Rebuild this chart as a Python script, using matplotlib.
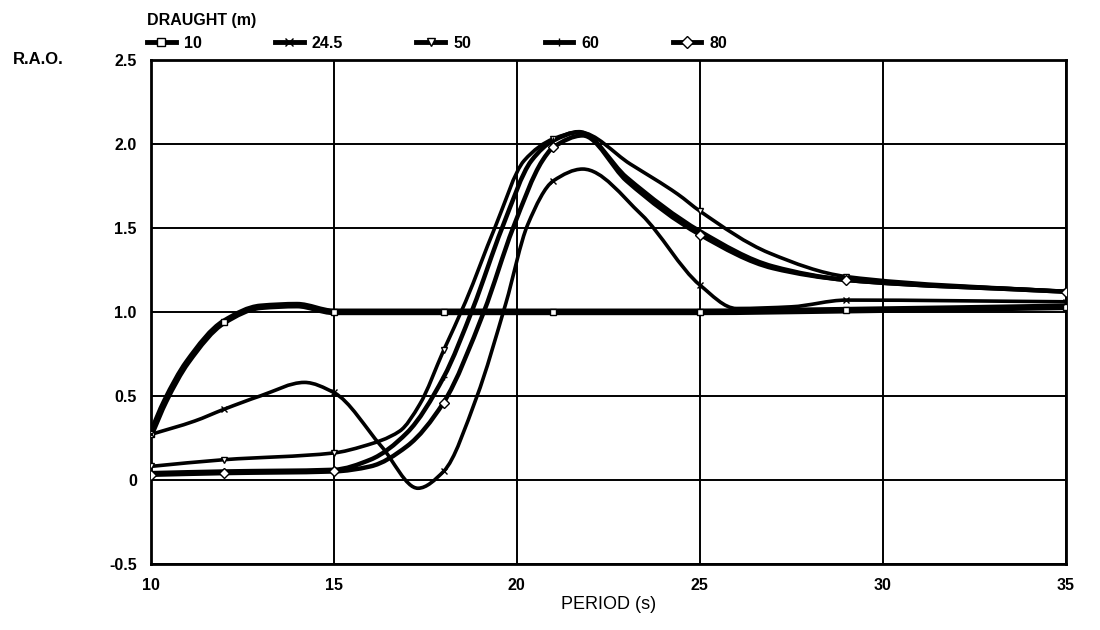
import numpy as np
import matplotlib
matplotlib.use('Agg')
from matplotlib import pyplot as plt
from matplotlib.path import Path
from matplotlib.patches import PathPatch
from matplotlib.lines import Line2D

plt.rcParams['font.family'] = ['Liberation Sans', 'DejaVu Sans']

# values (period s, R.A.O.)
t_10 = [10, 10.4, 11, 12, 13, 14, 15, 18, 21, 25, 29, 35]
r_10 = [0.27, 0.47, 0.70, 0.94, 1.03, 1.04, 1.00, 1.00, 1.00, 1.00, 1.01, 1.03]

t_24 = [10, 11.2, 12, 13, 14.2, 15, 16.3, 17.3, 18, 18.9, 19.7, 20.3, 21, 21.8, 23.4, 25, 26, 27.5, 29, 35]
r_24 = [0.27, 0.35, 0.42, 0.50, 0.58, 0.52, 0.20, -0.05, 0.05, 0.49, 1.05, 1.52, 1.78, 1.85, 1.58, 1.16, 1.02, 1.03, 1.07, 1.06]

t_50 = [10, 12, 15, 15.8, 16.8, 17.35, 18, 18.6, 19.4, 20.2, 21, 21.7, 23.1, 24.4, 25, 26.9, 29, 35]
r_50 = [0.08, 0.12, 0.16, 0.20, 0.29, 0.45, 0.77, 1.06, 1.50, 1.90, 2.03, 2.07, 1.88, 1.70, 1.60, 1.35, 1.21, 1.12]

t_60 = [10, 12, 15, 16, 17, 18, 18.8, 19.6, 20.4, 21, 21.7, 23, 25, 27, 29, 35]
r_60 = [0.04, 0.05, 0.06, 0.12, 0.28, 0.61, 1.02, 1.50, 1.90, 2.02, 2.07, 1.80, 1.48, 1.27, 1.19, 1.12]

t_80 = [10, 12, 15, 16, 17, 18, 19.1, 19.9, 20.7, 21, 21.8, 23, 25, 27, 29, 35]
r_80 = [0.03, 0.04, 0.05, 0.08, 0.20, 0.46, 1.00, 1.50, 1.90, 1.98, 2.05, 1.78, 1.46, 1.26, 1.19, 1.12]

marker_t = [10, 12, 15, 18, 21, 25, 29, 35]
labels = ['10', '24.5', '50', '60', '80']
x_ticks = [10, 15, 20, 25, 30, 35]
y_ticks = [-0.5, 0, 0.5, 1.0, 1.5, 2.0, 2.5]
y_ticklabels = ['-0.5', '0', '0.5', '1.0', '1.5', '2.0', '2.5']


def slopes(x, y):
    # pchip style tangents so the curve doesn't overshoot
    x = np.asarray(x, float)
    y = np.asarray(y, float)
    h = np.diff(x)
    d = np.diff(y) / h
    m = np.zeros_like(y)
    m[0], m[-1] = d[0], d[-1]
    for k in range(1, len(x) - 1):
        if d[k - 1] * d[k] <= 0:
            m[k] = 0
        else:
            w1 = 2 * h[k] + h[k - 1]
            w2 = h[k] + 2 * h[k - 1]
            m[k] = (w1 + w2) / (w1 / d[k - 1] + w2 / d[k])
    return x, y, m


def curve(ax, x, y, lw):
    x, y, m = slopes(x, y)
    verts = [(x[0], y[0])]
    codes = [Path.MOVETO]
    for i in range(len(x) - 1):
        h = x[i + 1] - x[i]
        verts += [(x[i] + h / 3, y[i] + m[i] * h / 3),
                  (x[i + 1] - h / 3, y[i + 1] - m[i + 1] * h / 3),
                  (x[i + 1], y[i + 1])]
        codes += [Path.CURVE4] * 3
    ax.add_patch(PathPatch(Path(verts, codes), fill=False, ec='k', lw=lw,
                           capstyle='round', joinstyle='round', zorder=3))


def marks(ax, x, y, mk, ms):
    xm = [a for a in x if a in marker_t]
    ym = [b for a, b in zip(x, y) if a in marker_t]
    ax.plot(xm, ym, ls='none', marker=mk, ms=ms, mfc='white', mec='k',
            mew=1.0, zorder=4)


fig = plt.figure(figsize=(11, 6.3), dpi=100)
ax = fig.add_axes([0.137, 0.105, 0.832, 0.80])

series = [(t_10, r_10, 4.8, 's'), (t_24, r_24, 2.6, 'x'), (t_50, r_50, 2.6, 'v'),
          (t_60, r_60, 3.2, '+'), (t_80, r_80, 3.2, 'D')]
for x, y, lw, mk in series:
    curve(ax, x, y, lw)
for x, y, lw, mk in series:
    marks(ax, x, y, mk, 5)

ax.set_xlim(10, 35)
ax.set_ylim(-0.5, 2.5)
ax.set_xticks(x_ticks)
ax.set_yticks(y_ticks)
ax.set_yticklabels(y_ticklabels)
ax.grid(True, color='k', lw=1.4)
ax.tick_params(length=0, labelsize=11.5, pad=10)
for lab in ax.get_xticklabels() + ax.get_yticklabels():
    lab.set_fontweight('bold')
for sp in ax.spines.values():
    sp.set_linewidth(2)
ax.set_xlabel('PERIOD (s)', fontsize=13, labelpad=2)
fig.text(0.012, 0.905, 'R.A.O.', fontsize=12, fontweight='bold', va='center')

handles = [Line2D([], [], color='k', lw=3.5, marker=mk, ms=6, mfc='white', mec='k')
           for x, y, lw, mk in series]
leg = ax.legend(handles, labels, title='DRAUGHT (m)', ncol=5, frameon=False,
                loc='lower left', bbox_to_anchor=(-0.02, 0.99), handlelength=1.8,
                columnspacing=4.6, handletextpad=0.5, alignment='left',
                prop={'weight': 'bold', 'size': 11.5})
leg.get_title().set_fontweight('bold')
leg.get_title().set_fontsize(11.5)

fig.savefig('out.png', dpi=100)
